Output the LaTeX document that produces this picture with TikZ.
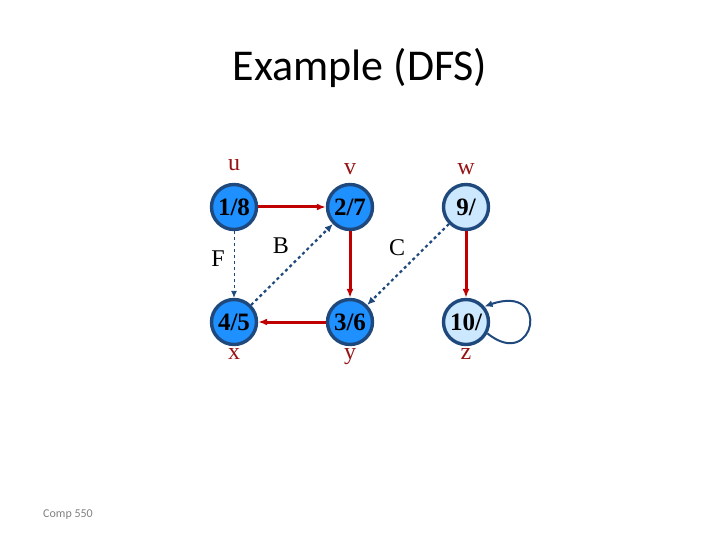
\documentclass[tikz,border=0pt]{standalone}
\usepackage{fontspec}
\setmainfont{Liberation Serif}
\newfontfamily\titlefont{Carlito}
\usepackage{xcolor}
\usepackage{tikz}
\usetikzlibrary{positioning,arrows.meta}

\definecolor{darkblue}{RGB}{31,73,125}
\definecolor{treered}{RGB}{192,0,0}
\definecolor{labelred}{RGB}{150,20,20}
\definecolor{doneblue}{RGB}{30,144,255}
\definecolor{openblue}{RGB}{204,232,255}

\begin{document}
\begin{tikzpicture}[x=1pt, y=-1pt,
    vert/.style={circle, draw=darkblue, line width=3.4pt, minimum size=45pt, inner sep=0pt,
      font=\fontsize{25}{25}\selectfont\bfseries},
    done/.style={vert, fill=doneblue},
    open/.style={vert, fill=openblue},
    vname/.style={text=labelred, font=\fontsize{24}{24}\selectfont, inner sep=1pt},
    tree/.style={-{Latex[length=9pt,width=7pt]}, treered, line width=3pt},
    other/.style={-{Latex[length=8pt,width=7pt]}, darkblue, dashed, line width=2.2pt},
    fwd/.style={-{Latex[length=7pt,width=6pt]}, darkblue, dashed, line width=0.9pt},
    elabel/.style={font=\fontsize{24}{24}\selectfont}]
  \useasboundingbox (0,0) rectangle (720,540);

  % title
  \node at (360,68) {\titlefont\fontsize{44}{44}\selectfont Example (DFS)};

  % vertices
  \node[done] (u) at (234,207) {1/8};
  \node[done] (v) at (350,207) {2/7};
  \node[open] (w) at (466,207) {9/};
  \node[done] (x) at (234,322) {4/5};
  \node[done] (y) at (350,322) {3/6};
  \node[open] (z) at (466,322) {10/};

  \node[vname, above=11pt of u] {u};
  \node[vname, above=7pt of v] {v};
  \node[vname, above=7pt of w] {w};
  \node[vname, below=1pt of x] {x};
  \node[vname, below=1pt of y] {y};
  \node[vname, below=1pt of z] {z};

  % tree edges
  \draw[tree] (u) -- (v);
  \draw[tree] (v) -- (y);
  \draw[tree] (y) -- (x);
  \draw[tree] (w) -- (z);

  % forward, back and cross edges
  \draw[fwd] (u) -- (x);
  \draw[other] (x) -- (v);
  \draw[other] (w) -- (y);
  \draw[darkblue, line width=2pt, -{Latex[length=8pt,width=7pt]}]
    (z.-28) .. controls (535,372) and (552,283) .. (z.40);

  \node[elabel] (lf) at (218,259) {F};
  \node[elabel] (lb) at (281,246) {B};
  \node[elabel] (lc) at (397,248) {C};

  \node[text=gray, font=\titlefont\fontsize{12}{12}\selectfont] at (68,515) {Comp 550};
\end{tikzpicture}
\end{document}
